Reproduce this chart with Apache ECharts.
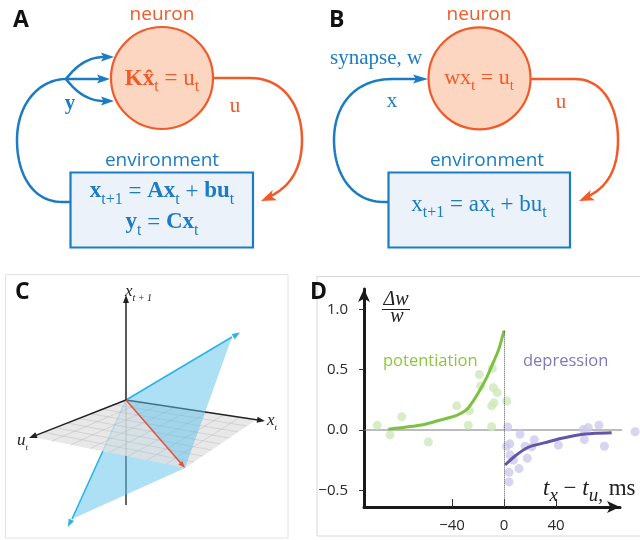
<!DOCTYPE html>
<html><head><meta charset="utf-8">
<script src="https://cdn.jsdelivr.net/npm/echarts@6/dist/echarts.min.js"></script>
<style>html,body{margin:0;padding:0;background:#fff}#c{width:640px;height:540px}</style>
</head><body><div id="c"></div>
<script>
// ---------- Panel D data (STDP window) ----------
const potentiationX = [-97.5, -87.7, -78.7, -58.2, -36.4, -27.5, -26.7, -19, -17.9, -9, -8.2, -5.2, -7.7, -9.5, -9.5, 2.1];
const potentiationY = [0.04, -0.04, 0.11, -0.10, 0.20, 0.04, 0.16, 0.46, 0.365, 0.51, 0.35, 0.31, 0.225, 0.20, 0.027, 0.24];
const depressionX = [2.8, 2, 4.5, 12.3, 16.2, 23.3, 21.3, 4.6, 7.2, 17.9, 11.5, 3.8, 3.8, 41.8, 61, 64.8, 61.8, 73, 77.2, 100.8];
const depressionY = [0.025, -0.135, -0.115, -0.035, -0.135, -0.08, -0.14, -0.205, -0.25, -0.235, -0.32, -0.35, -0.43, -0.125, 0.005, 0.02, -0.08, 0.04, -0.135, -0.015];
const potCurveX = [-89, -72, -60, -47, -36, -29, -24, -18.5, -13, -8, -4, 0];
const potCurveY = [0.006, 0.028, 0.05, 0.088, 0.124, 0.166, 0.235, 0.331, 0.442, 0.566, 0.67, 0.823];
const depCurveX = [0.8, 8.5, 18.7, 31.5, 44.4, 57.2, 70, 82.8];
const depCurveY = [-0.29, -0.215, -0.143, -0.105, -0.069, -0.041, -0.028, -0.022];
const zeroLineX = [-107.7, 105];
const xTicks = [-40, 0, 40];
const yTicks = [-0.5, 0, 0.5, 1.0];

const zip = (a, b) => a.map((v, i) => [v, b[i]]);

const SERIF = '"Liberation Serif", "DejaVu Serif", serif';
const SANS = '"Open Sans", "Noto Sans", sans-serif';
const BLUE = '#1c7cc3', ORANGE = '#f15a29', CIRC_FILL = '#fdd6c1', BOX_FILL = '#ebf2fa';

// ---------- graphic helpers (diagram panels) ----------
const G = [];
const mc = document.createElement('canvas').getContext('2d');
function T(x, y, text, font, fill, align) {
  G.push({type: 'text', x, y, silent: true,
    style: {text, font, fill, align: align || 'left', verticalAlign: 'middle'}});
}
function M(x, y, base, parts, fill, align) {
  const items = parts.map(p => {
    const t = p[0], s = p[1], fl = p[2] || '', ex = p[3] || {};
    const font = (fl.includes('i') ? 'italic ' : '') + (fl.includes('b') ? 'bold ' : '') + s + 'px ' + (ex.f || SERIF);
    mc.font = font;
    return {t, s, fl, ex, font, w: mc.measureText(t).width};
  });
  const W = items.reduce((a, it) => a + it.w + (it.ex.dx || 0), 0);
  let cx = align === 'center' ? x - W / 2 : align === 'right' ? x - W : x;
  items.forEach(it => {
    cx += it.ex.dx || 0;
    const dy = it.fl.includes('s') ? (it.ex.dy != null ? it.ex.dy : 0.6 * base - 0.35 * it.s) : 0;
    T(cx, y + dy, it.t, it.font, it.ex.c || fill, 'left');
    cx += it.w;
  });
}
// simple M/L/C path -> polyline points
function pathPts(d) {
  const tok = d.match(/[MLC]|-?\d*\.?\d+/g);
  const pts = []; let i = 0, cmd = null, cur = [0, 0];
  while (i < tok.length) {
    if (/[MLC]/.test(tok[i])) { cmd = tok[i++]; continue; }
    if (cmd === 'M' || cmd === 'L') {
      cur = [+tok[i], +tok[i + 1]]; i += 2; pts.push(cur);
    } else if (cmd === 'C') {
      const c1 = [+tok[i], +tok[i + 1]], c2 = [+tok[i + 2], +tok[i + 3]], e = [+tok[i + 4], +tok[i + 5]]; i += 6;
      for (let k = 1; k <= 24; k++) {
        const t = k / 24, u = 1 - t;
        pts.push([u*u*u*cur[0] + 3*u*u*t*c1[0] + 3*u*t*t*c2[0] + t*t*t*e[0],
                  u*u*u*cur[1] + 3*u*u*t*c1[1] + 3*u*t*t*c2[1] + t*t*t*e[1]]);
      }
      cur = e;
    } else i++;
  }
  return pts;
}
function P(d, color, w) {
  G.push({type: 'polyline', silent: true, shape: {points: pathPts(d)}, style: {stroke: color, lineWidth: w, fill: null, lineJoin: 'round'}});
}
function Poly(points, fill, extra) {
  G.push({type: 'polygon', silent: true, shape: {points}, style: Object.assign({fill}, extra || {})});
}
function Ln(a, b, color, w) {
  G.push({type: 'line', silent: true, shape: {x1: a[0], y1: a[1], x2: b[0], y2: b[1]}, style: {stroke: color, lineWidth: w}});
}
function Head(tip, from, len, hw, color, notch) {
  const dx = tip[0] - from[0], dy = tip[1] - from[1], d = Math.hypot(dx, dy), ux = dx / d, uy = dy / d;
  const bx = tip[0] - ux * len, by = tip[1] - uy * len;
  const k = len * (1 - (notch || 0));
  Poly([tip, [bx - uy * hw, by + ux * hw], [tip[0] - ux * k, tip[1] - uy * k], [bx + uy * hw, by - ux * hw]], color);
}
function Rect(x, y, w, h, fill, stroke, lw) {
  G.push({type: 'rect', silent: true, shape: {x, y, width: w, height: h}, style: {fill, stroke, lineWidth: lw}});
}
function Circ(cx, cy, r, fill, stroke, lw) {
  G.push({type: 'circle', silent: true, shape: {cx, cy, r}, style: {fill, stroke, lineWidth: lw}});
}

// ---------- Panel A ----------
T(13, 20, 'A', 'bold 23px ' + SANS, '#111');
T(162, 15, 'neuron', '19px ' + SANS, ORANGE, 'center');
Circ(162, 78, 51, CIRC_FILL, ORANGE, 2.2);
M(162, 79, 23, [['Kx\u0302', 23, 'b'], ['t', 16, 's'], [' = u', 23, ''], ['t', 16, 's']], ORANGE, 'center');
P('M213,78 L250,78 C284,78 302,106 302,140 C302,172 287,190 266,198', ORANGE, 2.5);
Head([261, 201], [287, 190], 15, 5.5, ORANGE, 0.25);
T(235, 106, 'u', '21px ' + SERIF, ORANGE, 'center');
P('M70,202 L62,202 C34,202 17,176 17,140 C17,103 40,79 66,79', BLUE, 2.5);
P('M66,79 C76,66 88,57 104,57', BLUE, 2.5); Head([114, 57], [100, 57], 13, 4.5, BLUE, 0.2);
P('M66,79 L102,79', BLUE, 2.5); Head([110, 79], [97, 79], 13, 4.5, BLUE, 0.2);
P('M66,79 C76,92 88,101 104,101', BLUE, 2.5); Head([114, 101], [100, 101], 13, 4.5, BLUE, 0.2);
T(70, 104, 'y', 'bold 21px ' + SERIF, BLUE, 'center');
T(162, 161, 'environment', '19px ' + SANS, BLUE, 'center');
Rect(70.5, 172.5, 182.5, 75, BOX_FILL, BLUE, 2.2);
M(162, 191.5, 23, [['x', 23, 'b'], ['t+1', 16, 's'], [' = ', 23, ''], ['Ax', 23, 'b'], ['t', 16, 's'], [' + ', 23, ''], ['bu', 23, 'b'], ['t', 16, 's']], BLUE, 'center');
M(162, 222.5, 23, [['y', 23, 'b'], ['t', 16, 's'], [' = ', 23, ''], ['Cx', 23, 'b'], ['t', 16, 's']], BLUE, 'center');

// ---------- Panel B ----------
T(329, 20, 'B', 'bold 23px ' + SANS, '#111');
T(479, 15, 'neuron', '19px ' + SANS, ORANGE, 'center');
Circ(479.5, 78.3, 51, CIRC_FILL, ORANGE, 2.2);
M(479, 78, 22, [['wx', 22, ''], ['t', 15, 's'], [' = u', 22, ''], ['t', 15, 's']], ORANGE, 'center');
T(330, 58, 'synapse, w', '21px ' + SERIF, BLUE, 'left');
P('M388,202 L384,202 C352,202 334,174 334,140 C334,104 356,79 392,79 L418,79', BLUE, 2.5);
Head([428, 79], [410, 79], 15, 4.5, BLUE, 0.2);
T(392, 101, 'x', '21px ' + SERIF, BLUE, 'center');
P('M530,79 L575,79 C604,79 618,108 618,140 C618,172 605,190 584,198', ORANGE, 2.5);
Head([579, 201], [605, 190], 15, 5.5, ORANGE, 0.25);
T(561, 102, 'u', '21px ' + SERIF, ORANGE, 'center');
T(487, 161, 'environment', '19px ' + SANS, BLUE, 'center');
Rect(388.5, 172.5, 181.5, 75, BOX_FILL, BLUE, 2.2);
M(479, 205, 23, [['x', 23, ''], ['t+1', 16, 's'], [' = ax', 23, ''], ['t', 16, 's'], [' + bu', 23, ''], ['t', 16, 's']], BLUE, 'center');

// ---------- Panel C (3D sketch) ----------
Rect(5.5, 274.5, 282.5, 263.5, 'none', '#e2e2e2', 1);
T(15, 292, 'C', 'bold 23px ' + SANS, '#111');
const O = [126, 400], Vt = [126, 295], Vb = [126, 505], Xtip = [265, 421], Utip = [29, 438];
const Lc = [33, 437], Fc = [185, 468], Rc = [256, 420];
const TR = [232, 337], TRtip = [240, 332.5], BL = [72, 519], BLtip = [68, 527];
const lerp = (a, b, s) => [a[0] + (b[0] - a[0]) * s, a[1] + (b[1] - a[1]) * s];
const bil = (s, t) => lerp(lerp(O, Rc, s), lerp(Lc, Fc, s), t);
Ln(O, Vb, '#333', 1.5);
Poly([O, Fc, BL], 'rgba(91,192,235,0.5)');
Ln(BL, O, '#2ab4ea', 1.6);
Head(BLtip, O, 8, 3, '#2ab4ea', 0);
Poly([O, Rc, Fc, Lc], 'rgba(226,226,226,0.78)');
for (let i = 1; i < 8; i++) {
  const s = i / 8;
  Ln(bil(s, 0), bil(s, 1), 'rgba(180,180,180,0.7)', 0.6);
  Ln(bil(0, s), bil(1, s), 'rgba(180,180,180,0.7)', 0.6);
}
Ln(O, lerp(O, Xtip, 0.95), '#222', 1.5); Head(Xtip, O, 8, 3, '#222', 0);
Ln(O, lerp(O, Utip, 0.93), '#222', 1.5); Head(Utip, O, 8, 3, '#222', 0);
Poly([O, TR, Fc], 'rgba(91,192,235,0.5)');
Ln(O, TR, '#2ab4ea', 1.6); Head(TRtip, O, 8, 3, '#2ab4ea', 0);
Ln(O, lerp(O, Fc, 0.93), '#e8523b', 1.6); Head(Fc, O, 7, 2.6, '#e8523b', 0);
Ln(O, lerp(O, Vt, 0.94), '#222', 1.5); Head(Vt, O, 8, 3, '#222', 0);
M(125, 291.3, 17, [['x', 17, 'i'], ['t + 1', 10, 'is']], '#222', 'left');
M(267, 420.7, 17, [['x', 17, 'i'], ['t', 9, 'is']], '#222', 'left');
M(17, 441, 17, [['u', 17, 'i'], ['t', 9, 'is']], '#222', 'left');

// ---------- Panel D decorations ----------
Rect(317, 276.5, 340, 259.5, 'none', '#d6d6d6', 1);
T(310, 292, 'D', 'bold 23px ' + SANS, '#111');
T(383, 361, 'potentiation', '16.5px ' + SANS, '#8dc63f', 'left');
T(523, 361, 'depression', '16.5px ' + SANS, '#8077bd', 'left');
T(396, 300, '\u0394w', 'italic 20px ' + SERIF, '#222', 'center');
Ln([382, 309.5], [410, 309.5], '#222', 1);
T(397, 316.5, 'w', 'italic 20px ' + SERIF, '#222', 'center');
M(543, 488.6, 23, [['t', 23, 'i'], ['x', 19, 'is', {dy: 7.5}], [' \u2212 ', 23, ''], ['t', 23, 'i'], ['u,', 19, 'is', {dy: 7.5}], [' ms', 23, '']], '#222', 'left');

const fmtNum = (v, d) => (v < 0 ? '\u2212' : '') + Math.abs(v).toFixed(d);

const chart = echarts.init(document.getElementById('c'), null, {renderer: 'canvas'});
chart.setOption({
  animation: false,
  backgroundColor: '#fff',
  graphic: G,
  grid: {left: 364, top: 289, width: 256, height: 218, containLabel: false},
  xAxis: {
    type: 'value', min: -107.7, max: 89.2,
    axisLine: {show: true, onZero: false, symbol: ['none', 'arrow'], symbolSize: [9, 13], lineStyle: {color: '#1a1a1a', width: 3}},
    axisTick: {show: true, inside: true, length: 8, customValues: xTicks, lineStyle: {color: '#333', width: 1}},
    axisLabel: {customValues: xTicks, formatter: v => fmtNum(v, 0), fontFamily: SANS, fontSize: 15, color: '#2a2a2a', margin: 11},
    splitLine: {show: false}
  },
  yAxis: {
    type: 'value', min: -0.638, max: 1.168,
    axisLine: {show: true, onZero: false, symbol: ['none', 'arrow'], symbolSize: [9, 13], lineStyle: {color: '#1a1a1a', width: 3}},
    axisTick: {show: true, inside: false, length: 5, customValues: yTicks, lineStyle: {color: '#333', width: 1}},
    axisLabel: {customValues: yTicks, formatter: v => fmtNum(v, 1), fontFamily: SANS, fontSize: 15, color: '#2a2a2a', margin: 16},
    splitLine: {show: false}
  },
  series: [
    {type: 'line', data: zeroLineX.map(x => [x, 0]), symbol: 'none', clip: false, silent: true, z: 1,
      lineStyle: {color: '#7a7a7a', width: 1.2},
      markLine: {silent: true, symbol: ['none', 'none'], label: {show: false},
        lineStyle: {color: '#555', width: 1, type: 'dotted'},
        data: [[{coord: [0, potCurveY[potCurveY.length - 1]]}, {coord: [0, -0.638]}]]}},
    {type: 'scatter', data: zip(potentiationX, potentiationY), symbolSize: 9, clip: false, z: 2,
      itemStyle: {color: '#cfe7ba'}},
    {type: 'scatter', data: zip(depressionX, depressionY), symbolSize: 9, clip: false, z: 2,
      itemStyle: {color: '#cdcaeb'}},
    {type: 'line', data: zip(potCurveX, potCurveY), symbol: 'none', smooth: 0.3, z: 3,
      lineStyle: {color: '#7cc143', width: 3}},
    {type: 'line', data: zip(depCurveX, depCurveY), symbol: 'none', smooth: 0.3, z: 3,
      lineStyle: {color: '#6555a8', width: 3}}
  ]
});
</script>
</body></html>
